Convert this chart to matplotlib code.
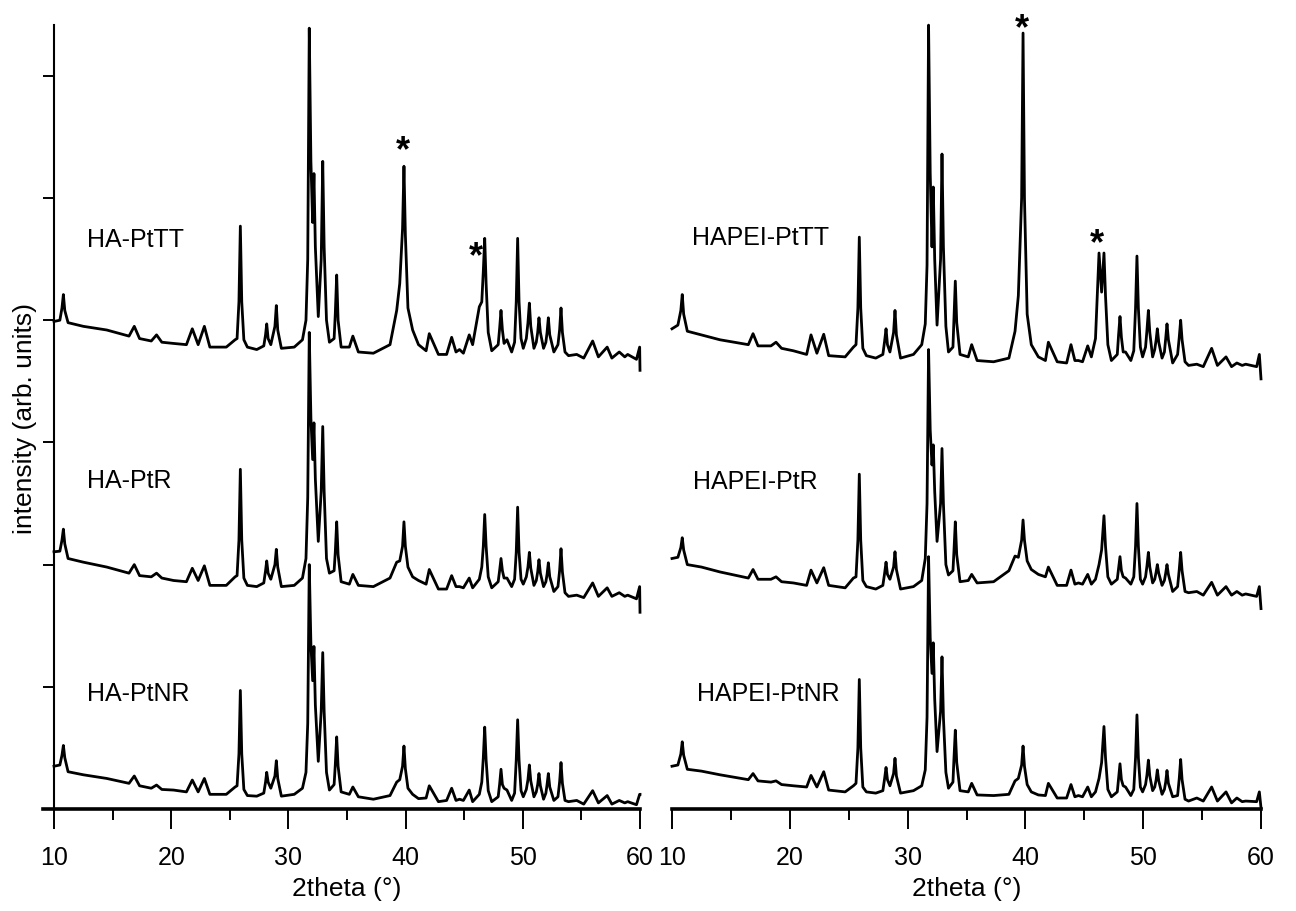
#!/usr/bin/env python3
import numpy as np
import matplotlib
matplotlib.use("Agg")
import matplotlib.pyplot as plt

plt.rcParams['font.family'] = ['Liberation Sans', 'DejaVu Sans']

# === data: 2theta vertices, stacked intensity (arb. units) ===
two_theta_ha = [
    10.0, 10.5, 10.68, 10.8, 10.92, 11.2,
    12.5, 14.5, 16.4, 16.85, 17.3, 18.3, 18.75, 19.2, 20.2, 21.3,
    21.8, 22.3, 22.83, 23.3, 24.7, 25.45,
    25.62, 25.78, 25.9, 26.02, 26.2, 26.5,
    27.3, 27.9, 28.05, 28.15, 28.27, 28.5, 28.85, 28.97, 29.09, 29.4,
    30.5, 31.2, 31.5, 31.65, 31.78, 31.92, 32.07, 32.18, 32.3, 32.55, 32.8, 32.93, 33.05, 33.25, 33.5,
    33.9, 34.0, 34.12, 34.24, 34.5, 35.2, 35.5, 35.97,
    37.25, 38.67, 39.24, 39.5, 39.74, 39.86, 39.98, 40.2, 40.6,
    41.1, 41.75, 42.02, 42.8, 43.5, 43.93, 44.3, 44.6, 44.93, 45.43, 45.72,
    46.29, 46.5, 46.63, 46.75, 46.87, 47.05, 47.35,
    47.9, 48.02, 48.14, 48.26, 48.4, 48.65, 49.05,
    49.3, 49.44, 49.56, 49.68, 49.85, 50.04,
    50.3, 50.44, 50.56, 50.68, 50.95,
    51.15, 51.27, 51.38, 51.5, 51.77,
    51.97, 52.07, 52.18, 52.3, 52.65,
    53.0, 53.14, 53.26, 53.38, 53.6, 53.9,
    54.6, 55.2, 55.96, 56.45, 57.2, 57.6, 58.23, 58.7, 58.95, 59.7, 59.97, 60.0,
]
ha_pttt = [
    3.99, 4.00, 4.10, 4.21, 4.08, 3.98,
    3.95, 3.92, 3.87, 3.95, 3.85, 3.83, 3.88, 3.82, 3.81, 3.80,
    3.93, 3.80, 3.95, 3.78, 3.78, 3.84,
    3.85, 4.15, 4.77, 4.15, 3.84, 3.78,
    3.76, 3.79, 3.88, 3.97, 3.85, 3.80, 3.95, 4.12, 3.92, 3.77,
    3.78, 3.84, 4.00, 4.50, 6.39, 5.30, 4.80, 5.20, 4.60, 4.03, 4.50, 5.30, 4.60, 4.00, 3.82,
    3.85, 4.05, 4.37, 4.00, 3.78, 3.78, 3.87, 3.74,
    3.73, 3.80, 4.08, 4.30, 4.75, 5.26, 4.70, 4.10, 3.92,
    3.80, 3.75, 3.89, 3.72, 3.72, 3.86, 3.74, 3.76, 3.73, 3.88, 3.80,
    4.11, 4.15, 4.40, 4.67, 4.30, 3.90, 3.75,
    3.80, 3.93, 4.08, 3.92, 3.81, 3.84, 3.74,
    3.82, 4.15, 4.67, 4.15, 3.85, 3.77,
    3.85, 3.98, 4.14, 3.95, 3.77,
    3.82, 3.90, 4.02, 3.90, 3.77,
    3.82, 3.90, 4.02, 3.88, 3.74,
    3.80, 3.92, 4.10, 3.90, 3.74, 3.71,
    3.72, 3.69, 3.83, 3.70, 3.78, 3.69, 3.74, 3.70, 3.72, 3.68, 3.78, 3.59,
]
ha_ptr = [
    2.105, 2.11, 2.20, 2.29, 2.17, 2.05,
    2.02, 1.98, 1.93, 2.00, 1.91, 1.90, 1.93, 1.89, 1.87, 1.86,
    1.97, 1.87, 1.99, 1.83, 1.83, 1.90,
    1.91, 2.20, 2.78, 2.20, 1.89, 1.83,
    1.82, 1.85, 1.95, 2.03, 1.93, 1.88, 2.00, 2.125, 1.98, 1.82,
    1.83, 1.89, 2.05, 2.55, 3.90, 3.20, 2.86, 3.16, 2.70, 2.19, 2.60, 3.13, 2.60, 2.05, 1.93,
    1.95, 2.10, 2.35, 2.08, 1.86, 1.84, 1.92, 1.83,
    1.82, 1.89, 2.02, 2.03, 2.15, 2.35, 2.15, 1.98, 1.90,
    1.87, 1.84, 1.96, 1.80, 1.80, 1.91, 1.82, 1.82, 1.81, 1.89, 1.81,
    1.88, 1.98, 2.15, 2.41, 2.15, 1.90, 1.81,
    1.86, 1.95, 2.05, 1.95, 1.89, 1.89, 1.82,
    1.88, 2.10, 2.47, 2.10, 1.88, 1.84,
    1.90, 1.98, 2.10, 1.97, 1.83,
    1.87, 1.94, 2.04, 1.93, 1.82,
    1.86, 1.92, 2.015, 1.90, 1.78,
    1.82, 1.95, 2.13, 1.94, 1.77, 1.74,
    1.75, 1.73, 1.85, 1.74, 1.81, 1.74, 1.77, 1.74, 1.75, 1.72, 1.82, 1.61,
]
ha_ptnr = [
    0.35, 0.36, 0.44, 0.52, 0.42, 0.305,
    0.28, 0.25, 0.21, 0.27, 0.19, 0.17, 0.196, 0.16, 0.155, 0.14,
    0.237, 0.14, 0.25, 0.12, 0.12, 0.18,
    0.19, 0.45, 0.97, 0.45, 0.16, 0.11,
    0.105, 0.13, 0.22, 0.30, 0.22, 0.17, 0.27, 0.395, 0.25, 0.105,
    0.12, 0.17, 0.30, 0.70, 2.00, 1.35, 1.05, 1.33, 0.85, 0.39, 0.80, 1.28, 0.80, 0.30, 0.155,
    0.20, 0.36, 0.59, 0.35, 0.14, 0.12, 0.18, 0.10,
    0.08, 0.11, 0.22, 0.24, 0.35, 0.515, 0.33, 0.17, 0.12,
    0.085, 0.09, 0.19, 0.06, 0.07, 0.17, 0.07, 0.08, 0.07, 0.155, 0.06,
    0.12, 0.22, 0.42, 0.67, 0.40, 0.15, 0.06,
    0.10, 0.20, 0.325, 0.20, 0.17, 0.155, 0.07,
    0.13, 0.40, 0.73, 0.40, 0.15, 0.10,
    0.16, 0.24, 0.36, 0.23, 0.10,
    0.14, 0.20, 0.29, 0.19, 0.08,
    0.13, 0.20, 0.29, 0.18, 0.07,
    0.10, 0.22, 0.38, 0.21, 0.07, 0.06,
    0.07, 0.04, 0.15, 0.05, 0.11, 0.04, 0.07, 0.05, 0.06, 0.035, 0.12, 0.12,
]

two_theta_hapei = [
    10.0, 10.5, 10.75, 10.87, 10.99, 11.3,
    12.5, 14.07, 16.48, 16.88, 17.3, 18.4, 18.83, 19.3, 20.3, 21.43,
    21.8, 22.3, 22.88, 23.3, 24.7, 25.4,
    25.62, 25.78, 25.9, 26.02, 26.2, 26.5,
    27.3, 27.9, 28.05, 28.17, 28.29, 28.5, 28.81, 28.93, 29.05, 29.4,
    30.5, 31.2, 31.5, 31.65, 31.78, 31.92, 32.07, 32.18, 32.3, 32.5, 32.8, 32.92, 33.04, 33.25, 33.47,
    33.85, 33.93, 34.05, 34.17, 34.45, 35.15, 35.44, 35.9,
    37.3, 38.6, 39.12, 39.4, 39.68, 39.8, 39.92, 40.15, 40.5,
    41.1, 41.7, 41.95, 42.7, 43.5, 43.87, 44.2, 44.5, 44.85, 45.29, 45.6,
    45.95, 46.25, 46.47, 46.67, 46.8, 47.0, 47.3,
    47.8, 47.91, 48.03, 48.15, 48.3, 48.5, 48.95,
    49.2, 49.35, 49.47, 49.59, 49.76, 49.95,
    50.2, 50.32, 50.44, 50.56, 50.8,
    50.98, 51.1, 51.2, 51.32, 51.6,
    51.8, 51.91, 52.02, 52.14, 52.5,
    52.92, 53.06, 53.18, 53.3, 53.55, 53.85,
    54.55, 55.1, 55.81, 56.3, 57.03, 57.5, 57.95, 58.4, 58.7, 59.63, 59.86, 60.0,
]
hapei_pttt = [
    3.93, 3.96, 4.08, 4.21, 4.05, 3.91,
    3.88, 3.84, 3.80, 3.89, 3.79, 3.79, 3.82, 3.77, 3.75, 3.72,
    3.88, 3.73, 3.885, 3.71, 3.70, 3.78,
    3.80, 4.10, 4.68, 4.10, 3.77, 3.71,
    3.69, 3.72, 3.83, 3.93, 3.80, 3.74, 3.90, 4.08, 3.88, 3.69,
    3.72, 3.80, 3.97, 4.45, 6.415, 5.20, 4.60, 5.09, 4.50, 3.96, 4.50, 5.36, 4.60, 3.95, 3.74,
    3.78, 4.00, 4.32, 3.98, 3.72, 3.70, 3.80, 3.67,
    3.66, 3.69, 3.91, 4.20, 5.00, 6.35, 5.00, 4.05, 3.80,
    3.70, 3.67, 3.82, 3.66, 3.65, 3.80, 3.67, 3.67, 3.66, 3.79, 3.70,
    3.85, 4.55, 4.23, 4.55, 4.20, 3.80, 3.67,
    3.72, 3.88, 4.03, 3.86, 3.74, 3.74, 3.67,
    3.75, 4.10, 4.525, 4.10, 3.78, 3.70,
    3.78, 3.92, 4.08, 3.90, 3.70,
    3.76, 3.84, 3.93, 3.82, 3.69,
    3.74, 3.85, 3.97, 3.84, 3.65,
    3.72, 3.86, 4.00, 3.84, 3.66, 3.63,
    3.64, 3.62, 3.77, 3.63, 3.70, 3.62, 3.65, 3.63, 3.64, 3.62, 3.72, 3.52,
]
hapei_ptr = [
    2.05, 2.06, 2.14, 2.22, 2.12, 2.00,
    1.98, 1.94, 1.89, 1.96, 1.88, 1.88, 1.90, 1.86, 1.85, 1.83,
    1.955, 1.85, 1.975, 1.83, 1.81, 1.89,
    1.90, 2.20, 2.74, 2.20, 1.87, 1.82,
    1.80, 1.83, 1.93, 2.02, 1.92, 1.88, 1.98, 2.105, 1.96, 1.80,
    1.82, 1.87, 2.05, 2.50, 3.76, 3.10, 2.815, 2.98, 2.60, 2.19, 2.50, 2.95, 2.50, 2.00, 1.915,
    1.95, 2.10, 2.35, 2.08, 1.86, 1.87, 1.92, 1.85,
    1.86, 1.95, 2.07, 2.06, 2.20, 2.365, 2.20, 2.03, 1.96,
    1.92, 1.90, 1.98, 1.83, 1.83, 1.955, 1.84, 1.85, 1.84, 1.92, 1.84,
    1.88, 2.00, 2.12, 2.40, 2.15, 1.90, 1.84,
    1.88, 1.97, 2.065, 1.95, 1.90, 1.89, 1.84,
    1.90, 2.15, 2.50, 2.15, 1.88, 1.84,
    1.90, 1.99, 2.10, 1.98, 1.85,
    1.88, 1.94, 2.00, 1.93, 1.83,
    1.87, 1.93, 2.00, 1.92, 1.78,
    1.82, 1.96, 2.10, 1.95, 1.78, 1.77,
    1.78, 1.75, 1.855, 1.75, 1.82, 1.75, 1.78, 1.75, 1.76, 1.74, 1.82, 1.64,
]
hapei_ptnr = [
    0.35, 0.36, 0.45, 0.55, 0.44, 0.325,
    0.31, 0.28, 0.24, 0.29, 0.23, 0.22, 0.23, 0.20, 0.19, 0.18,
    0.275, 0.18, 0.305, 0.155, 0.14, 0.19,
    0.21, 0.50, 1.06, 0.50, 0.18, 0.14,
    0.13, 0.15, 0.25, 0.34, 0.24, 0.19, 0.29, 0.415, 0.27, 0.13,
    0.15, 0.19, 0.32, 0.75, 2.065, 1.40, 1.11, 1.36, 0.90, 0.47, 0.80, 1.245, 0.75, 0.30, 0.17,
    0.22, 0.40, 0.645, 0.38, 0.15, 0.14, 0.21, 0.115,
    0.11, 0.12, 0.23, 0.25, 0.36, 0.515, 0.35, 0.20, 0.14,
    0.115, 0.11, 0.21, 0.09, 0.09, 0.20, 0.10, 0.11, 0.10, 0.18, 0.10,
    0.14, 0.25, 0.38, 0.675, 0.42, 0.16, 0.10,
    0.14, 0.25, 0.37, 0.24, 0.19, 0.18, 0.11,
    0.16, 0.42, 0.77, 0.42, 0.18, 0.14,
    0.20, 0.28, 0.40, 0.27, 0.15,
    0.18, 0.24, 0.32, 0.23, 0.12,
    0.16, 0.22, 0.315, 0.21, 0.10,
    0.11, 0.25, 0.405, 0.24, 0.08, 0.065,
    0.09, 0.065, 0.18, 0.065, 0.14, 0.05, 0.09, 0.06, 0.065, 0.06, 0.14, 0.01,
]

ha_names = ["HA-PtTT", "HA-PtR", "HA-PtNR"]
hapei_names = ["HAPEI-PtTT", "HAPEI-PtR", "HAPEI-PtNR"]
# label anchor (2theta, baseline y)
ha_label_pos = [(12.79, 4.60), (12.79, 2.63), (12.79, 0.886)]
hapei_label_pos = [(11.67, 4.615), (11.81, 2.62), (12.10, 0.886)]
# Pt reflections marked with * (2theta, baseline y)
ha_star_pos = [(39.78, 5.30), (46.0, 4.435)]
hapei_star_pos = [(39.71, 6.30), (46.08, 4.54)]

# === config ===
YMAX = 6.416
FS_TEXT = 18
FS_LABEL = 19
FS_STAR = 26
LW = 2.0


def style_xaxis(ax):
    x0 = ax.get_xlim()[0]
    ax.set_xticks(np.arange(10, 61, 10))
    ax.set_xticks(np.arange(15, 60, 10), minor=True)
    ax.tick_params(axis='x', which='major', direction='out', length=14.4,
                   width=1.4, labelsize=FS_TEXT, pad=12)
    ax.tick_params(axis='x', which='minor', direction='out', length=8,
                   width=1.4)
    ax.spines['bottom'].set_linewidth(2.6)
    ax.spines['top'].set_visible(False)
    ax.spines['right'].set_visible(False)
    ax.set_xlabel("2theta (°)", fontsize=FS_LABEL)
    # centre the label under 10..60 even when the spine runs further left
    ax.xaxis.set_label_coords((35 - x0) / (60 - x0), -0.0867)
    ax.xaxis.label.set_va('top')


def draw_panel(ax, x, series, names, label_pos, star_pos):
    for y, name, (lx, ly) in zip(series, names, label_pos):
        assert len(y) == len(x)
        ax.plot(x, y, color='black', linewidth=LW, clip_on=False,
                solid_joinstyle='round')
        ax.text(lx, ly, name, fontsize=FS_TEXT, ha='left', va='baseline')
    for sx, sy in star_pos:
        ax.text(sx, sy, "*", fontsize=FS_STAR, fontweight='bold',
                ha='center', va='baseline', clip_on=False)


def plot():
    fig = plt.figure(figsize=(12.96, 9.11), dpi=100)
    bottom = (911 - 809) / 911
    height = (809 - 25) / 911

    ax_l = fig.add_axes([43.45 / 1296, bottom, (640 - 43.45) / 1296, height])
    ax_r = fig.add_axes([672 / 1296, bottom, (1261 - 672) / 1296, height])

    # --- left panel: HA supports ---
    ax_l.set_xlim(9.1, 60)
    ax_l.set_ylim(0, YMAX)
    draw_panel(ax_l, two_theta_ha, [ha_pttt, ha_ptr, ha_ptnr],
               ha_names, ha_label_pos, ha_star_pos)
    ax_l.spines['left'].set_position(('data', 10))
    ax_l.spines['left'].set_linewidth(1.5)
    ax_l.set_yticks(np.arange(0, 7))
    ax_l.set_yticklabels([])
    ax_l.tick_params(axis='y', direction='out', length=7.7, width=1.4)
    style_xaxis(ax_l)

    # --- right panel: HAPEI supports ---
    ax_r.set_xlim(10, 60)
    ax_r.set_ylim(0, YMAX)
    draw_panel(ax_r, two_theta_hapei, [hapei_pttt, hapei_ptr, hapei_ptnr],
               hapei_names, hapei_label_pos, hapei_star_pos)
    ax_r.spines['left'].set_visible(False)
    ax_r.set_yticks([])
    style_xaxis(ax_r)

    fig.text(25 / 1296, 1 - 418 / 911, "intensity (arb. units)",
             fontsize=FS_LABEL, rotation=90, ha='center', va='center')

    fig.savefig("out.png", dpi=100)


def main():
    plot()


if __name__ == "__main__":
    main()
